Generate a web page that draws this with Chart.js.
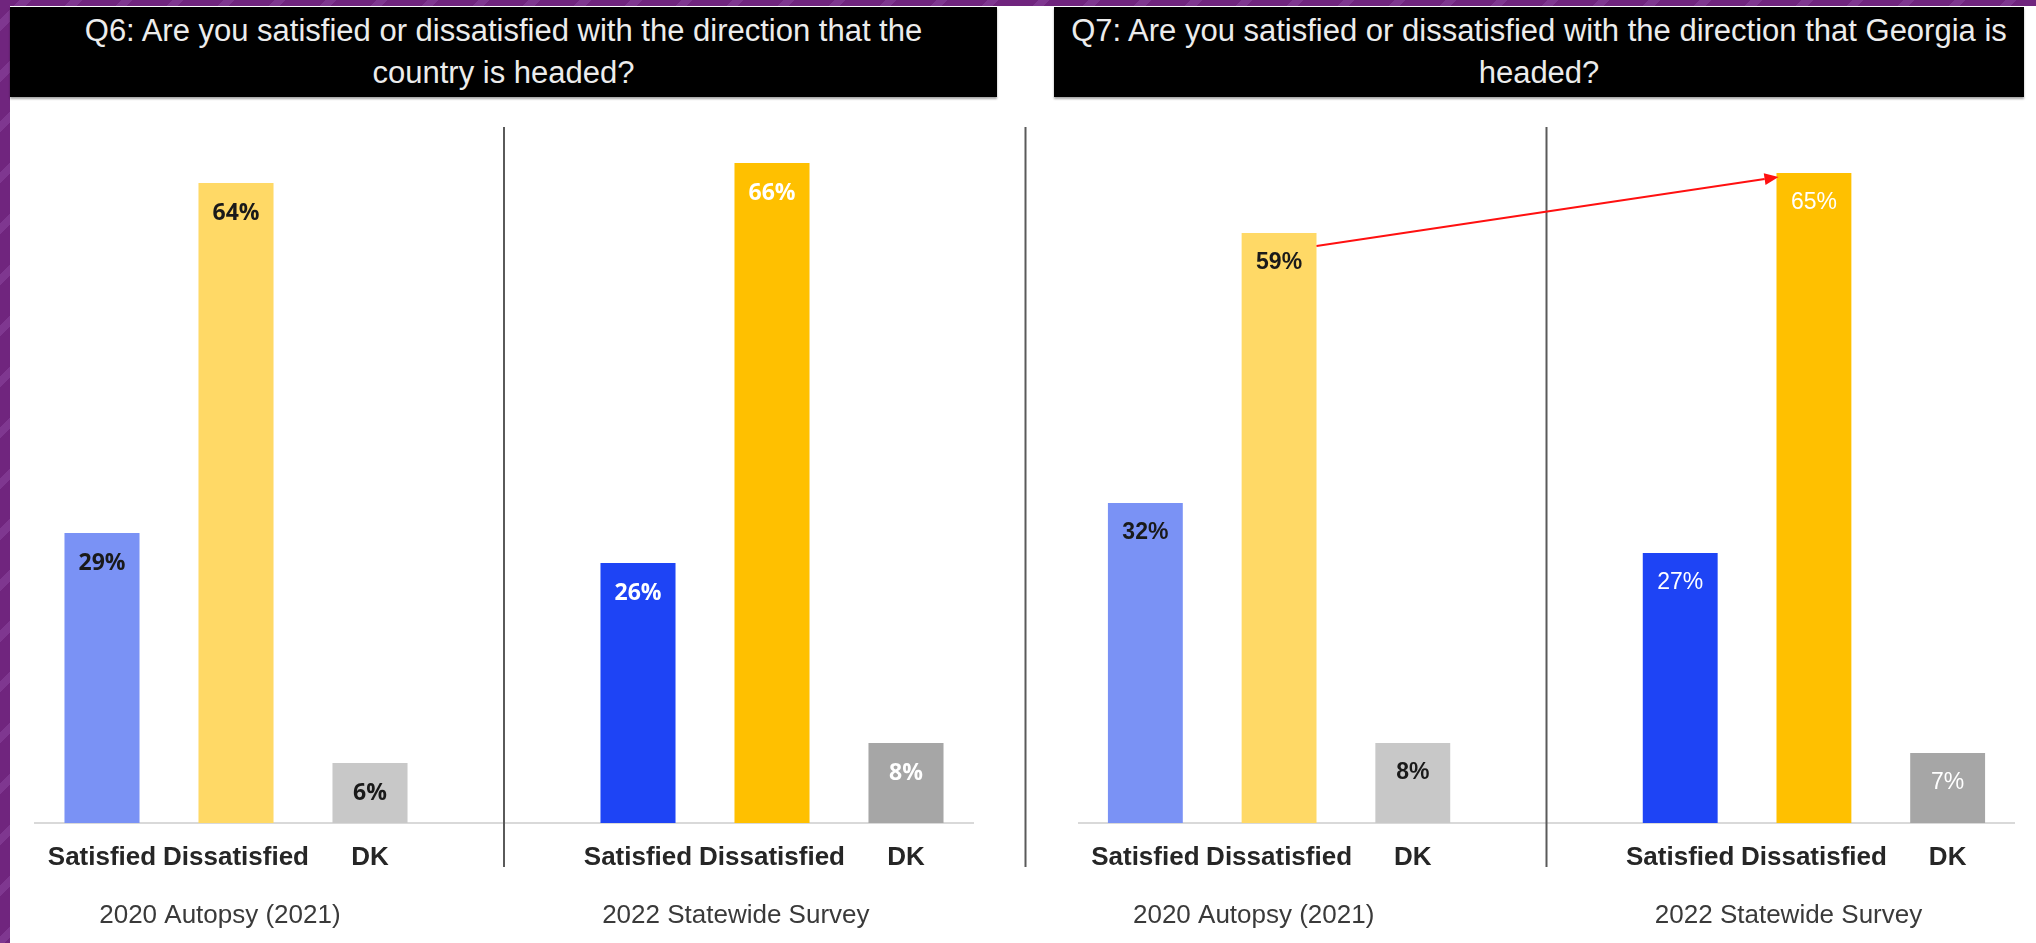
<!DOCTYPE html>
<html><head><meta charset="utf-8">
<script src="https://cdn.jsdelivr.net/npm/chart.js@4.4.1/dist/chart.umd.min.js"></script>
<style>
html,body{margin:0;padding:0;}
body{width:2036px;height:943px;position:relative;overflow:hidden;
 background:#72277f repeating-linear-gradient(135deg,#70257e 0 14px,#7f3790 14px 22px,#70257e 22px 36px);}
#page{position:absolute;left:10px;top:6px;right:0;bottom:0;background:#fff;}
.tbox{position:absolute;top:7px;height:87px;padding-top:3px;background:#000;color:#ececec;
 font-family:'Liberation Sans',Arial,sans-serif;font-size:31px;line-height:42px;text-align:center;
 white-space:nowrap;box-shadow:0 2px 2px rgba(0,0,0,.35);}
canvas{position:absolute;}
</style></head><body>
<div id="page"></div>
<div class="tbox" style="left:10px;width:987px">Q6: Are you satisfied or dissatisfied with the direction that the<br>country is headed?</div>
<div class="tbox" style="left:1054px;width:970px">Q7: Are you satisfied or dissatisfied with the direction that Georgia is<br>headed?</div>
<canvas id="c1" width="990" height="843" style="left:10px;top:100px"></canvas>
<canvas id="c2" width="1036" height="843" style="left:1000px;top:100px"></canvas>
<script>
// ---- data ----
const answerLabels = ['Satisfied', 'Dissatisfied', 'DK'];
const waveLabels = ['2020 Autopsy (2021)', '2022 Statewide Survey'];
const q6_2020 = [29, 64, 6];
const q6_2022 = [26, 66, 8];
const q7_2020 = [32, 59, 8];
const q7_2022 = [27, 65, 7];
const colors2020 = ['#7A92F5', '#FFD966', '#C8C8C8'];
const colors2022 = ['#1E44F5', '#FFC000', '#A6A6A6'];
const labelColors2020 = ['#1a1a1a', '#1a1a1a', '#1a1a1a'];
const labelColors2022 = ['#ffffff', '#ffffff', '#ffffff'];

// ---- build 7-slot category layout (gap in middle) ----
const xLabels = [...answerLabels, '', ...answerLabels];
const bg = [...colors2020, 'rgba(0,0,0,0)', ...colors2022];
const lblCols = [...labelColors2020, '#000', ...labelColors2022];

const decor = {
  id: 'decor',
  afterDatasetsDraw(chart, args, opts) {
    const { ctx, chartArea, scales: { x } } = chart;
    const meta = chart.getDatasetMeta(0);
    const data = chart.data.datasets[0].data;
    ctx.save();
    ctx.strokeStyle = '#5a5a5a';
    ctx.lineWidth = 2;
    const top = chartArea.top + 4, bottom = chartArea.bottom + 44;
    const xs = [x.getPixelForValue(3)];
    if (opts.leftRule) xs.push(chartArea.left - 53);
    xs.forEach(px => { ctx.beginPath(); ctx.moveTo(px, top); ctx.lineTo(px, bottom); ctx.stroke(); });
    ctx.textAlign = 'center';
    ctx.textBaseline = 'middle';
    meta.data.forEach((bar, i) => {
      const v = data[i];
      if (v == null) return;
      ctx.fillStyle = lblCols[i];
      ctx.font = (i < 3 || opts.allBold ? 'bold ' : '') + '23px ' + opts.labelFont;
      ctx.fillText(v + '%', bar.x, bar.y + 30);
    });
    if (opts.arrow) {
      const a = meta.data[1], b = meta.data[5];
      const x0 = a.x + a.width / 2, y0 = a.y + 13;
      const x1 = b.x - b.width / 2 + 2, y1 = b.y + 4;
      const ang = Math.atan2(y1 - y0, x1 - x0);
      const L = 14, W = 6;
      ctx.strokeStyle = '#FF1010';
      ctx.fillStyle = '#FF1010';
      ctx.lineWidth = 2;
      ctx.beginPath();
      ctx.moveTo(x0, y0);
      ctx.lineTo(x1 - L * Math.cos(ang), y1 - L * Math.sin(ang));
      ctx.stroke();
      ctx.beginPath();
      ctx.moveTo(x1, y1);
      ctx.lineTo(x1 - L * Math.cos(ang) + W * Math.sin(ang), y1 - L * Math.sin(ang) - W * Math.cos(ang));
      ctx.lineTo(x1 - L * Math.cos(ang) - W * Math.sin(ang), y1 - L * Math.sin(ang) + W * Math.cos(ang));
      ctx.closePath();
      ctx.fill();
    }
    ctx.restore();
  }
};

// subAnchors: where (in category units) each wave caption is centred
function makeChart(id, v2020, v2022, pad, decorOpts, subAnchors) {
  return new Chart(document.getElementById(id), {
    type: 'bar',
    data: {
      labels: xLabels,
      datasets: [{
        data: [...v2020, null, ...v2022],
        backgroundColor: bg,
        borderWidth: 0,
        categoryPercentage: 1,
        barPercentage: 0.56
      }]
    },
    options: {
      responsive: false,
      animation: false,
      devicePixelRatio: 1,
      layout: { padding: pad },
      plugins: { legend: { display: false }, tooltip: { enabled: false }, title: { display: false }, decor: decorOpts },
      scales: {
        y: { display: false, min: 0, max: 70 },
        x: {
          weight: 0,
          grid: { display: false, drawTicks: false },
          border: { display: true, color: '#d9d9d9', width: 2 },
          ticks: {
            autoSkip: false, maxRotation: 0, minRotation: 0, padding: 19, color: '#262626',
            font: { family: "'Liberation Sans', Arial, sans-serif", weight: 'bold', size: 26 }
          },
          afterFit(s) { s.height = 56; }
        },
        x2: {
          type: 'linear', position: 'bottom', weight: 1, offset: false,
          min: -0.5, max: xLabels.length - 0.5,
          afterBuildTicks(s) { s.ticks = subAnchors.map(v => ({ value: v })); },
          grid: { display: false, drawTicks: false },
          border: { display: false },
          ticks: {
            autoSkip: false, maxRotation: 0, minRotation: 0, padding: 21,
            color: '#3a3a3a',
            callback: (v, i) => waveLabels[i],
            font: { family: "'Liberation Sans', Arial, sans-serif", size: 26 }
          },
          afterFit(s) { s.height = 64; }
        }
      }
    },
    plugins: [decor]
  });
}

makeChart('c1', q6_2020, q6_2022, { left: 25, right: 27, top: 23, bottom: 0 },
  { leftRule: false, arrow: false, labelFont: "'Open Sans', sans-serif", allBold: true }, [0.88, 4.73]);
makeChart('c2', q7_2020, q7_2022, { left: 78.5, right: 21.5, top: 23, bottom: 0 },
  { leftRule: true, arrow: true, labelFont: "'Liberation Sans', Arial, sans-serif", allBold: false }, [0.81, 4.81]);
</script>
</body></html>
